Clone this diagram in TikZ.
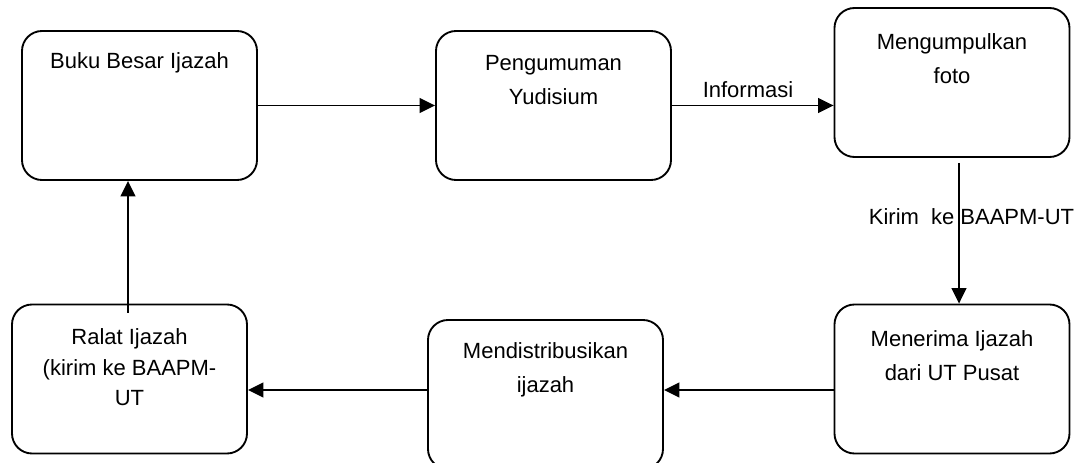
\documentclass[tikz,border=0pt]{standalone}
\usepackage{fontspec}
\setmainfont{Liberation Sans}
\usetikzlibrary{arrows.meta}
\begin{document}
\begin{tikzpicture}[x=0.75pt,y=-0.75pt,
  box/.style={draw, line width=1.4pt, rounded corners=15pt, minimum width=176.25pt, minimum height=111.75pt, inner sep=0pt},
  txt/.style={align=center, font=\fontsize{16.5pt}{25.5pt}\selectfont, inner sep=0pt},
  arr/.style={line width=1.4pt, -{Triangle[length=11.5pt,width=11pt]}}]
\clip (0,0) rectangle (1075,463);
\fill[white] (0,0) rectangle (1075,463);
% boxes
\node[box] (b1) at (139.5,105.5) {};
\node[box] (b2) at (553.5,105.5) {};
\node[box] (b3) at (952,82.5) {};
\node[box] (b4) at (952,379) {};
\node[box] (b5) at (545.5,394.5) {};
\node[box] (b6) at (129.5,379) {};
% texts
\node[txt] (t1) at (139.5,63) {Buku Besar Ijazah};
\node[txt] (t2) at (553.5,80) {Pengumuman\\Yudisium};
\node[txt] (t3) at (952,59) {Mengumpulkan\\foto};
\node[txt] (t4) at (952,355.5) {Menerima Ijazah\\dari UT Pusat};
\node[txt] (t5) at (545.5,369.5) {Mendistribusikan\\ijazah};
\node[txt, font=\fontsize{16.5pt}{22.9pt}\selectfont] (t6) at (129.5,367.5) {Ralat Ijazah\\(kirim ke BAAPM-\\UT};
% connectors
\draw[arr] (b1.east) -- (b2.west);
\draw[arr] (b2.east) -- (b2.east -| b3.west);
\node[txt] (l1) at (748,90) {Informasi};
\coordinate (a3s) at (959,163);
\draw[arr] (a3s) -- (a3s |- b4.north);
\node[txt] (l2) at (971.5,217) {Kirim\hspace{0.55em}ke BAAPM-UT};
\draw[arr] (b4.west |- 0,390) -- (b5.east |- 0,390);
\draw[arr] (b5.west |- 0,390) -- (b6.east |- 0,390);
\coordinate (a6s) at (128,313);
\draw[arr] (a6s) -- (a6s |- b1.south);
\end{tikzpicture}
\end{document}
